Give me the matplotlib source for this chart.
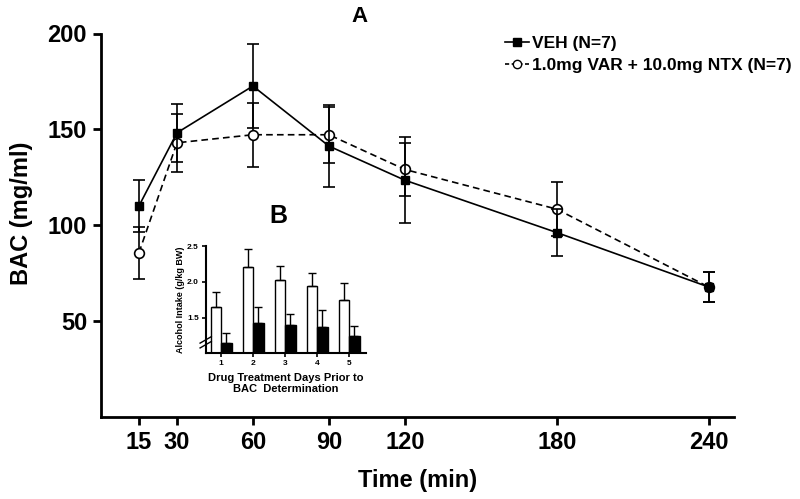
import matplotlib
matplotlib.use("Agg")
import matplotlib.pyplot as plt
from matplotlib.lines import Line2D
import numpy as np

plt.rcParams['font.family'] = ['Liberation Sans', 'DejaVu Sans']
plt.rcParams['font.weight'] = 'bold'

# Main panel A data
time = [15, 30, 60, 90, 120, 180, 240]
veh = [110.1, 148.2, 172.6, 141.3, 123.5, 96.2, 67.8]
veh_err = [13.5, 15.0, 21.8, 21.2, 22.3, 12.2, 7.6]
ntx = [85.7, 143.0, 147.2, 147.2, 129.1, 108.4, 67.8]
ntx_err = [13.5, 15.0, 16.8, 14.5, 14.0, 13.9, 7.6]
xticks = [15, 30, 60, 90, 120, 180, 240]
yticks = [50, 100, 150, 200]
labels = ['VEH (N=7)', '1.0mg VAR + 10.0mg NTX (N=7)']

# Inset B data
days = [1, 2, 3, 4, 5]
intake_veh = [1.65, 2.205, 2.02, 1.94, 1.74]
intake_veh_err = [0.20, 0.255, 0.195, 0.185, 0.245]
intake_drug = [1.14, 1.43, 1.395, 1.37, 1.245]
intake_drug_err = [0.15, 0.22, 0.15, 0.23, 0.135]

fig = plt.figure(figsize=(8.0, 4.99), dpi=100)
ax = fig.add_axes([101/800, 1-417/499, (734-101)/800, (417-33.5)/499])

ax.errorbar(time, veh, yerr=veh_err, color='black', marker='s', markersize=6,
            linestyle='-', linewidth=1.2, elinewidth=1.2, capsize=4.5, capthick=1.2,
            zorder=3)
ax.errorbar(time, ntx, yerr=ntx_err, color='black', marker='o', markersize=7,
            markerfacecolor='white', markeredgewidth=1.2,
            linestyle=(0, (4, 2.5)), linewidth=1.2, elinewidth=1.2, capsize=4.5, capthick=1.2,
            zorder=2)

ax.set_xlim(0, 250)
ax.set_ylim(0, 200)
ax.set_xticks(xticks)
ax.set_yticks(yticks)
for s in ['top', 'right']:
    ax.spines[s].set_visible(False)
for s in ['left', 'bottom']:
    ax.spines[s].set_linewidth(2)
ax.tick_params(axis='both', width=2, length=6, labelsize=17, pad=4)
for lab in ax.get_xticklabels() + ax.get_yticklabels():
    lab.set_fontweight('bold')
ax.set_xlabel('Time (min)', fontsize=17, fontweight='bold', labelpad=11)
ax.set_ylabel('BAC (mg/ml)', fontsize=17, fontweight='bold')
ax.yaxis.set_label_coords(-0.108, 0.532)

handles = [
    Line2D([], [], color='black', marker='s', markersize=5.5, linestyle='-', linewidth=1.2),
    Line2D([], [], color='black', marker='o', markersize=6, markerfacecolor='white',
           markeredgewidth=1.0, linestyle=(0, (2.5, 1.5)), linewidth=1.2),
]
leg = ax.legend(handles, labels, loc='upper left', bbox_to_anchor=(0.628, 1.012), frameon=False,
                prop={'weight': 'bold', 'size': 12.5}, handlelength=1.35,
                handletextpad=0.2, labelspacing=0.38, borderaxespad=0)

fig.text(359/800, 1-16/499, 'A', fontsize=16, fontweight='bold', ha='center', va='center')
fig.text(278/800, 1-216/499, 'B', fontsize=18, fontweight='bold', ha='center', va='center')

# Inset
axi = fig.add_axes([205.7/800, 1-353.3/499, 160/800, (353.3-246)/499])
w = 0.33
x = np.array(days)
axi.bar(x - w/2, intake_veh, width=w, color='white', edgecolor='black', linewidth=1.0,
        yerr=[np.zeros(5), intake_veh_err], error_kw=dict(elinewidth=1.0, capsize=3, capthick=1.0),
        zorder=2)
axi.bar(x + w/2, intake_drug, width=w, color='black', edgecolor='black', linewidth=1.0,
        yerr=[np.zeros(5), intake_drug_err], error_kw=dict(elinewidth=1.0, capsize=3, capthick=1.0),
        zorder=2)
axi.set_xlim(0.52, 5.52)
axi.set_ylim(1.0, 2.5)
axi.set_yticks([1.5, 2.0, 2.5])
axi.set_yticklabels(['1.5', '2.0', '2.5'])
axi.set_xticks(days)
for s in ['top', 'right']:
    axi.spines[s].set_visible(False)
for s in ['left', 'bottom']:
    axi.spines[s].set_linewidth(1.5)
axi.tick_params(axis='both', width=1.2, length=3, labelsize=6, pad=2)
for lab in axi.get_xticklabels() + axi.get_yticklabels():
    lab.set_fontweight('bold')
axi.set_ylabel('Alcohol Intake (g/kg BW)', fontsize=6.5, fontweight='bold', labelpad=1)
axi.set_xlabel('Drug Treatment Days Prior to\nBAC  Determination', fontsize=8,
               fontweight='bold', labelpad=4, linespacing=1.1)
# axis break mark
for dy in (0.0, 0.045):
    axi.plot([-0.035, 0.035], [0.05 + dy, 0.11 + dy], transform=axi.transAxes,
             color='black', linewidth=1.0, clip_on=False)

fig.savefig('out.png', dpi=100)
